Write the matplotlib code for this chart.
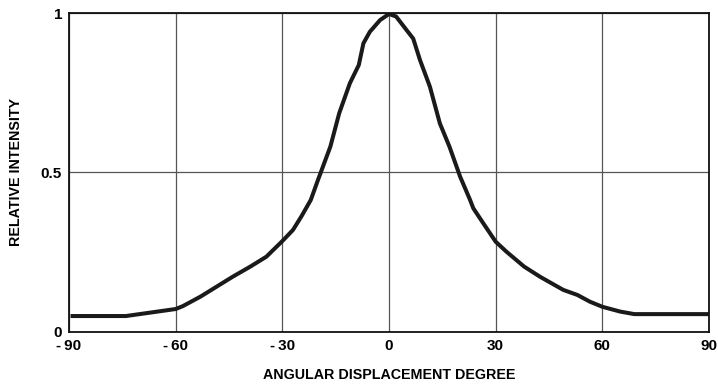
import matplotlib
matplotlib.use('Agg')
import matplotlib.pyplot as plt

plt.rcParams['font.family'] = ['Liberation Sans', 'DejaVu Sans']
plt.rcParams['font.weight'] = 'bold'

# angular profile (degrees, relative intensity)
angle = [-89, -74, -67, -60, -58, -53, -48.5, -44, -39, -34.5, -30, -27, -24.5, -22, -20,
         -16.5, -14, -11, -8.5, -7.2, -5.4, -2.5, 0, 2, 4.9, 6.8, 8.7, 11.5, 14.3, 17, 20,
         22.8, 23.7, 26.5, 30, 33, 38, 42.5, 49, 53, 56.5, 60, 65, 69, 90]
intensity = [0.05, 0.05, 0.061, 0.072, 0.081, 0.111, 0.142, 0.173, 0.205, 0.236, 0.285, 0.32,
             0.365, 0.414, 0.476, 0.581, 0.686, 0.78, 0.837, 0.905, 0.941, 0.978, 0.997, 0.989,
             0.947, 0.92, 0.853, 0.769, 0.654, 0.581, 0.487, 0.414, 0.388, 0.341, 0.283, 0.252,
             0.205, 0.173, 0.132, 0.116, 0.095, 0.079, 0.064, 0.056, 0.056]

xticks = [-90, -60, -30, 0, 30, 60, 90]
yticks = [0, 0.5, 1]
ytick_labels = ['0', '0.5', '1']

fig = plt.figure(figsize=(7.18, 3.92), dpi=100)
ax = fig.add_axes([0.0961, 0.1531, 0.8914, 0.8137])

ax.plot(angle, intensity, color='#1a1a1a', lw=2.9, solid_joinstyle='round')

ax.set_xlim(-90, 90)
ax.set_ylim(0, 1)
ax.set_xticks(xticks)
ax.set_xticklabels([str(t).replace('-', '-\u2009') for t in xticks])
ax.set_yticks(yticks)
ax.set_yticklabels(ytick_labels)
ax.tick_params(length=0, labelsize=11, pad=5)
ax.grid(True, color='#555555', lw=0.9)
ax.set_axisbelow(True)
for s in ax.spines.values():
    s.set_linewidth(1.3)
    s.set_color('#111111')

ax.set_xlabel('ANGULAR DISPLACEMENT DEGREE', fontsize=10.3, fontweight='bold', labelpad=11)
ax.set_ylabel('RELATIVE INTENSITY', fontsize=10.3, fontweight='bold', labelpad=13)

fig.savefig('out.png', dpi=100)
